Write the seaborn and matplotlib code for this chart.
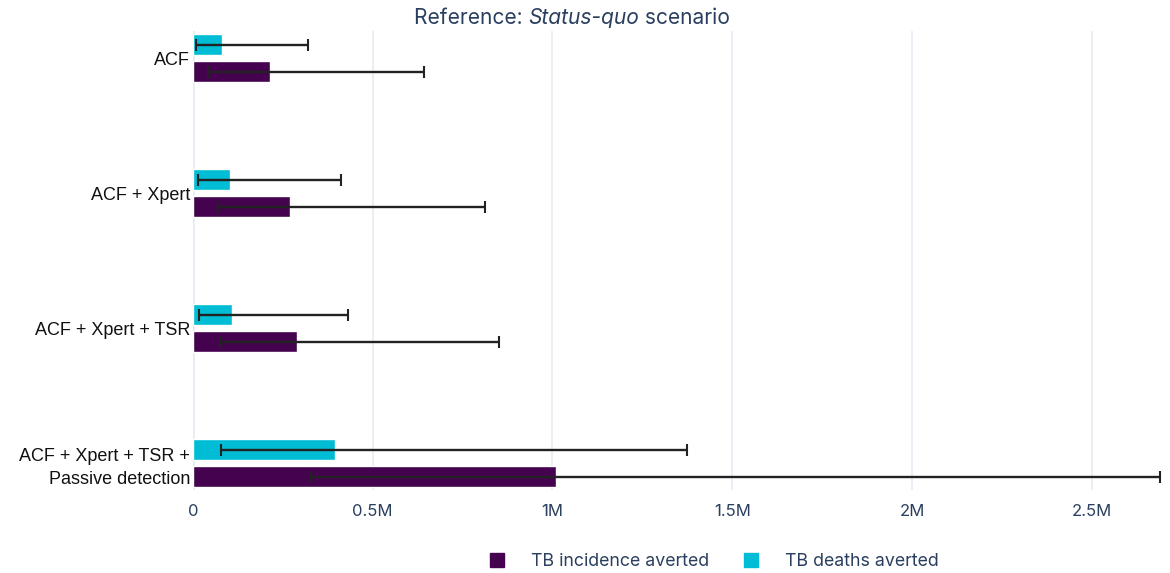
import matplotlib
matplotlib.use("Agg")
import matplotlib.pyplot as plt
from matplotlib.lines import Line2D
from matplotlib.ticker import FuncFormatter, MultipleLocator
import seaborn as sns
import pandas as pd

# Interventions, top to bottom
categories = [
    "ACF",
    "ACF + Xpert",
    "ACF + Xpert + TSR",
    "ACF + Xpert + TSR +\nPassive detection",
]

# TB incidence averted: central estimate and uncertainty interval
incidence = [213_000, 269_000, 288_000, 1_011_000]
incidence_lo = [42_000, 69_000, 75_000, 328_000]
incidence_hi = [642_000, 813_000, 850_000, 2_690_000]

# TB deaths averted: central estimate and uncertainty interval
deaths = [80_000, 102_000, 108_000, 394_000]
deaths_lo = [9_000, 15_000, 18_000, 77_000]
deaths_hi = [319_000, 411_000, 431_000, 1_375_000]

series_names = ["TB incidence averted", "TB deaths averted"]
colors = {"TB incidence averted": "#45024F", "TB deaths averted": "#00BCD4"}

navy = "#2A3F5F"
grid_col = "#E6EAF3"
ui_font = ["Inter", "DejaVu Sans"]

df = pd.concat([
    pd.DataFrame({"intervention": categories, "metric": series_names[0],
                  "value": incidence, "lo": incidence_lo, "hi": incidence_hi}),
    pd.DataFrame({"intervention": categories, "metric": series_names[1],
                  "value": deaths, "lo": deaths_lo, "hi": deaths_hi}),
], ignore_index=True)

sns.set_theme(style="white")
plt.rcParams["font.family"] = ["Liberation Sans", "DejaVu Sans"]

fig = plt.figure(figsize=(11.7, 5.73), dpi=100)
ax = fig.add_axes([193 / 1170, 1 - 490 / 573, (1160 - 193) / 1170, (490 - 31) / 573])

plot_order = ["TB deaths averted", "TB incidence averted"]
sns.barplot(data=df, y="intervention", x="value", hue="metric",
            hue_order=plot_order, order=categories, orient="h",
            palette=colors, width=0.4, gap=0.22, errorbar=None,
            saturation=1, legend=False, ax=ax, zorder=3)

# Asymmetric uncertainty intervals, placed on each drawn bar
for container, metric in zip(ax.containers, plot_order):
    sub = df[df["metric"] == metric].set_index("intervention").loc[categories]
    for bar, (_, row) in zip(container, sub.iterrows()):
        yc = bar.get_y() + bar.get_height() / 2
        ax.errorbar(row["value"], yc,
                    xerr=[[row["value"] - row["lo"]], [row["hi"] - row["value"]]],
                    fmt="none", ecolor="#222222", elinewidth=1.7,
                    capsize=4.0, capthick=1.5, zorder=4, clip_on=False)

ax.set_xlim(0, 2.69e6)
ax.set_ylim(3.2, -0.2)
ax.xaxis.set_major_locator(MultipleLocator(500_000))


def fmt_m(v, _):
    if v == 0:
        return "0"
    m = v / 1e6
    return f"{m:g}M"


ax.xaxis.set_major_formatter(FuncFormatter(fmt_m))
ax.grid(axis="x", color=grid_col, linewidth=1.1, zorder=0)
ax.grid(axis="y", visible=False)
ax.axvline(0, color=grid_col, linewidth=2.6, zorder=1)
for s in ax.spines.values():
    s.set_visible(False)
ax.set_xlabel("")
ax.set_ylabel("")
ax.tick_params(axis="x", length=0, pad=10, labelsize=12, labelcolor=navy)
ax.tick_params(axis="y", length=0, pad=2, labelsize=13, labelcolor="#111111")
for lab in ax.get_xticklabels():
    lab.set_family(ui_font)
for lab in ax.get_yticklabels():
    lab.set_linespacing(1.5)

# Title with italic scenario name
fig.canvas.draw()
renderer = fig.canvas.get_renderer()
parts = [("Reference: ", "normal"), ("Status-quo", "italic"), (" scenario", "normal")]
texts = []
for s, style in parts:
    t = fig.text(0, 1 - 18 / 573, s, family=ui_font, style=style,
                 fontsize=15.1, color=navy, va="center", ha="left")
    texts.append(t)
widths = [t.get_window_extent(renderer).width for t in texts]
x = 572 - sum(widths) / 2
for t, w in zip(texts, widths):
    t.set_x(x / 1170)
    x += w

handles = [Line2D([], [], marker="s", linestyle="none", markersize=10.5,
                  markerfacecolor=colors[n], markeredgecolor=colors[n])
           for n in series_names]
fig.legend(handles, series_names, loc="center", bbox_to_anchor=(709 / 1170, 1 - 562 / 573),
           ncol=2, frameon=False, handletextpad=0.9, columnspacing=1.4,
           prop={"family": ui_font, "size": 12.8}, labelcolor=navy)

fig.savefig("out.png", dpi=100)
